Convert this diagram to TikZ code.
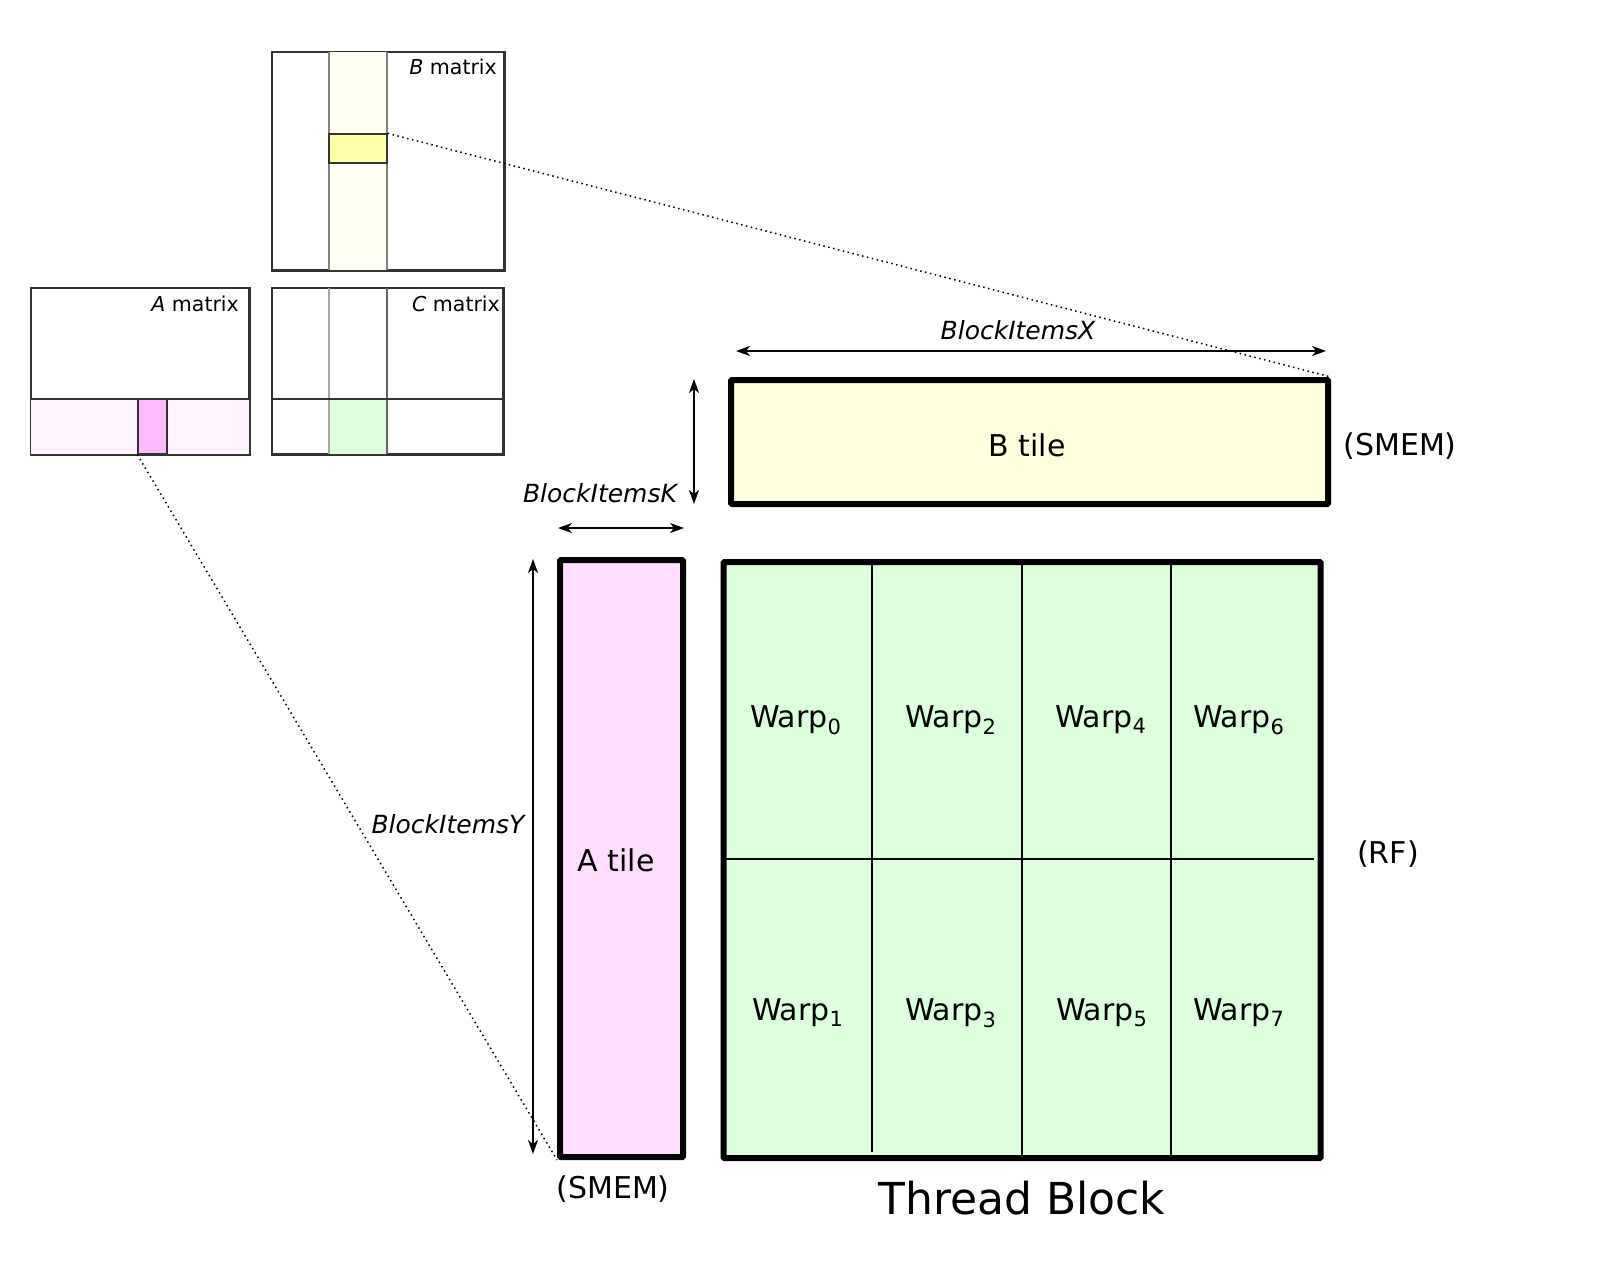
\documentclass[tikz,border=0pt]{standalone}
\usepackage{fontspec}
\setmainfont{DejaVu Sans}
\usetikzlibrary{arrows.meta}
\definecolor{tileY}{RGB}{255,255,224}
\definecolor{tileP}{RGB}{255,222,255}
\definecolor{tileG}{RGB}{222,255,222}
\definecolor{paleY}{RGB}{255,255,244}
\definecolor{subY}{RGB}{255,255,170}
\definecolor{paleP}{RGB}{255,244,255}
\definecolor{subP}{RGB}{255,187,255}
\definecolor{frameC}{RGB}{51,51,51}
\tikzset{
  tilebox/.style={draw=black, line width=6pt, rounded corners=1pt, inner sep=0pt},
  matbox/.style={draw=frameC, line width=1.5pt, inner sep=0pt},
  subbox/.style={draw=frameC, line width=1.3pt, inner sep=0pt},
  gridline/.style={draw=black, line width=1.8pt},
  dimarrow/.style={line width=1.8pt, {Stealth[length=14pt,width=10pt,inset=4pt]}-{Stealth[length=14pt,width=10pt,inset=4pt]}},
  zoomline/.style={line width=1.5pt, dash pattern=on 1.5pt off 3.5pt},
  big/.style={font=\fontsize{30}{36}\selectfont, inner sep=0pt},
  dimlbl/.style={font=\fontsize{25}{30}\selectfont\itshape, inner sep=0pt, anchor=base},
  matlbl/.style={font=\fontsize{20.5}{24}\selectfont, inner sep=0pt, anchor=base east},
  huge/.style={font=\fontsize{44}{53}\selectfont, inner sep=0pt, anchor=base}
}
\begin{document}
\begin{tikzpicture}[x=1pt,y=-1pt]
\useasboundingbox (0,0) rectangle (1600,1275);

% ---------- B matrix ----------
\node[matbox, minimum width=232pt, minimum height=218pt] (Bmat) at (388,161) {};
\fill[paleY] (329,52) rectangle (387,270);
\draw[gray, line width=1.3pt] (329,52) -- (329,270) (387,52) -- (387,270);
\node[subbox, fill=subY, minimum width=58pt, minimum height=29pt] (Bsub) at (358,148.5) {};
\draw[matbox, fill=none] (Bmat.south west) rectangle (Bmat.north east);
\node[matlbl] (Blbl) at (497,74) {\textit{B} matrix};

% ---------- A matrix ----------
\node[matbox, minimum width=218pt, minimum height=166pt] (Amat) at (140,371) {};
\fill[paleP] (31,399) rectangle (249,454);
\draw[frameC, line width=1.5pt] (31,399) -- (249,399);
\node[subbox, fill=subP, minimum width=29pt, minimum height=55pt] (Asub) at (152.5,426.5) {};
\draw[matbox, fill=none] (Amat.south west) rectangle (Amat.north east);
\node[matlbl] (Albl) at (239,311) {\textit{A} matrix};

% ---------- C matrix ----------
\node[matbox, minimum width=231pt, minimum height=166pt] (Cmat) at (387.5,371) {};
\fill[tileG] (329,399) rectangle (387,454);
\draw[gray!70, line width=1.5pt] (329,288) -- (329,454);
\draw[gray!120, line width=1.3pt] (387,288) -- (387,454);
\draw[frameC, line width=1.5pt] (272,399) -- (503,399);
\draw[matbox, fill=none] (Cmat.south west) rectangle (Cmat.north east);
\node[matlbl] (Clbl) at (500,311) {\textit{C} matrix};

% ---------- B tile ----------
\node[tilebox, fill=tileY, minimum width=597pt, minimum height=124pt] (Btile) at (1029.5,442) {};
\node[big, anchor=base] (Btxt) at (1027,456) {B tile};
\node[big, anchor=base] (Bsmem) at (1400,455) {(SMEM)};

% ---------- A tile ----------
\node[tilebox, fill=tileP, minimum width=123pt, minimum height=597pt] (Atile) at (621.5,858.5) {};
\node[big, anchor=base] (Atxt) at (616,871) {A tile};
\node[big, anchor=base] (Asmem) at (613,1198) {(SMEM)};

% ---------- Thread block ----------
\node[tilebox, fill=tileG, minimum width=597pt, minimum height=596pt] (TB) at (1022,860) {};
\draw[gridline] (872,562) -- (872,1152);
\draw[gridline] (1022,562) -- (1022,1158);
\draw[gridline] (1171,562) -- (1171,1158);
\draw[gridline] (724,859) -- (1314,859);
\node[big, anchor=base west] (W0) at (750,727) {Warp\textsubscript{0}};
\node[big, anchor=base west] (W2) at (905,727) {Warp\textsubscript{2}};
\node[big, anchor=base west] (W4) at (1055,727) {Warp\textsubscript{4}};
\node[big, anchor=base west] (W6) at (1193,727) {Warp\textsubscript{6}};
\node[big, anchor=base west] (W1) at (752,1020) {Warp\textsubscript{1}};
\node[big, anchor=base west] (W3) at (905,1020) {Warp\textsubscript{3}};
\node[big, anchor=base west] (W5) at (1056,1020) {Warp\textsubscript{5}};
\node[big, anchor=base west] (W7) at (1193,1020) {Warp\textsubscript{7}};
\node[big, anchor=base] (RF) at (1388,863) {(RF)};
\node[huge] (TBlbl) at (1022,1214) {Thread Block};

% ---------- dimension arrows ----------
\coordinate (xL) at (736,351);
\coordinate (xR) at (1326,351);
\draw[dimarrow] (xL) -- (xR);
\node[dimlbl] (Xlbl) at (1018,339) {BlockItemsX};

\coordinate (kT) at (694,379);
\coordinate (kB) at (694,504);
\draw[dimarrow] (kT) -- (kB);
\coordinate (kL) at (558,528);
\coordinate (kR) at (684,528);
\draw[dimarrow] (kL) -- (kR);
\node[dimlbl] (Klbl) at (600,502) {BlockItemsK};

\coordinate (yT) at (533,559);
\coordinate (yB) at (533,1154);
\draw[dimarrow] (yT) -- (yB);
\node[dimlbl] (Ylbl) at (448,833) {BlockItemsY};

% ---------- zoom lines ----------
\draw[zoomline] (Bsub.north east) -- (Btile.north east);
\draw[zoomline] (Asub.south west) -- (Atile.south west);
\end{tikzpicture}
\end{document}
